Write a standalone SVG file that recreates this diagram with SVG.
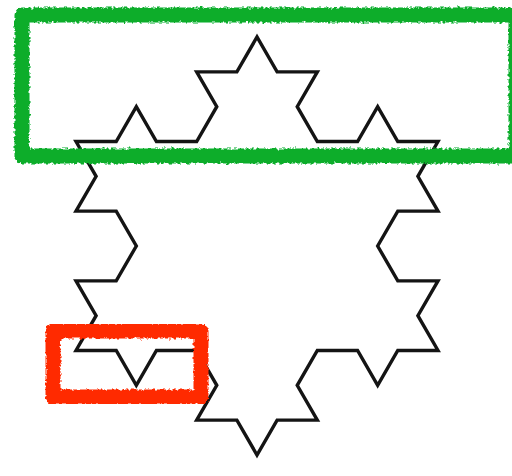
<svg xmlns="http://www.w3.org/2000/svg" width="512" height="476" viewBox="0 0 512 476">
  <defs>
    <filter id="rough" x="-5%" y="-10%" width="110%" height="120%">
      <feTurbulence type="fractalNoise" baseFrequency="0.35" numOctaves="2" seed="3" result="n"/>
      <feDisplacementMap in="SourceGraphic" in2="n" scale="5" xChannelSelector="R" yChannelSelector="G"/>
    </filter>
  </defs>
  <style>
    .koch { fill: none; stroke: #141414; stroke-width: 3.4; stroke-linejoin: miter; }
    .hl { fill: none; stroke-width: 15; stroke-linejoin: round; filter: url(#rough); }
    .green { stroke: #0aad2c; }
    .red { stroke: #ff2a00; }
  </style>
  <rect width="512" height="476" fill="#ffffff"/>
  <g id="snowflake">
    <path class="koch" d="M76,141.5 L116.22,141.5 L136.33,106.67 L156.44,141.5 L196.67,141.5 L216.78,106.67 L196.67,71.83 L236.89,71.83 L257,37 L277.11,71.83 L317.33,71.83 L297.22,106.67 L317.33,141.5 L357.56,141.5 L377.67,106.67 L397.78,141.5 L438,141.5
      L417.89,176.33 L438,211.17 L397.78,211.17 L377.67,246 L397.78,280.83 L438,280.83 L417.89,315.67 L438,350.5 L397.78,350.5 L377.67,385.33 L357.56,350.5 L317.33,350.5 L297.22,385.33 L317.33,420.17 L277.11,420.17 L257,455
      L236.89,420.17 L196.67,420.17 L216.78,385.33 L196.67,350.5 L156.44,350.5 L136.33,385.33 L116.22,350.5 L76,350.5 L96.11,315.67 L76,280.83 L116.22,280.83 L136.33,246 L116.22,211.17 L76,211.17 L96.11,176.33 Z"/>
  </g>
  <g id="highlight-top">
    <rect class="hl green" x="22" y="15" width="494" height="141"/>
  </g>
  <g id="highlight-bottom-left">
    <rect class="hl red" x="53" y="331" width="148" height="66"/>
  </g>
</svg>
